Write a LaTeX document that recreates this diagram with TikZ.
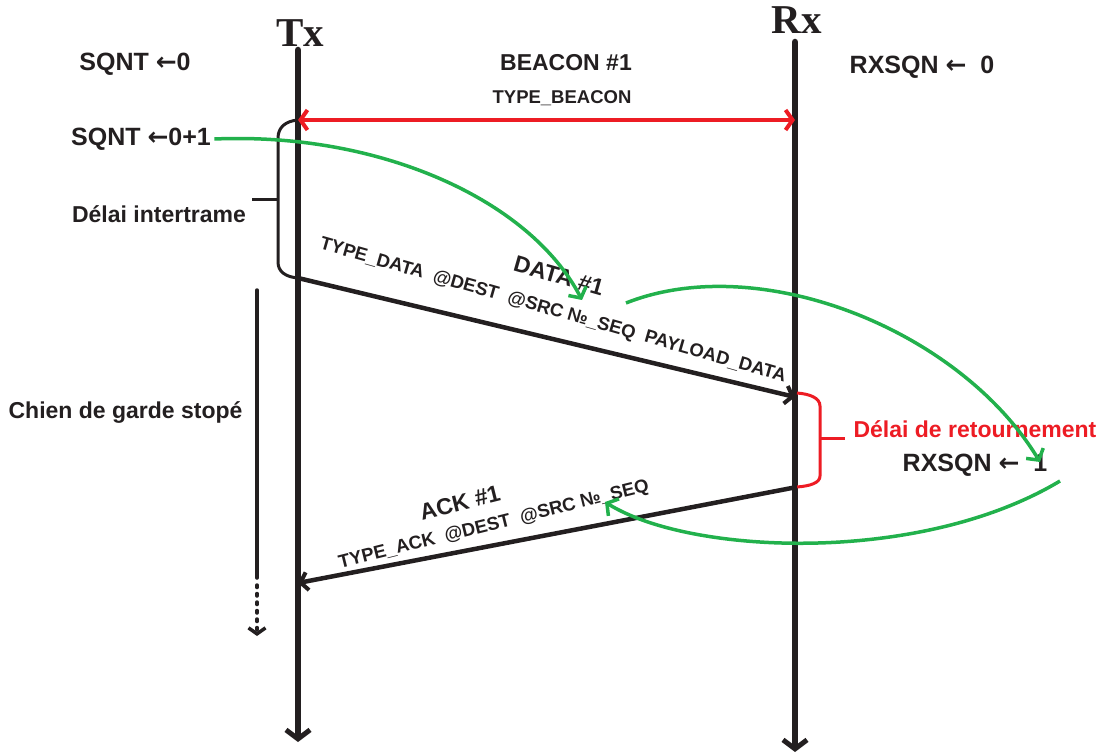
\documentclass[tikz,border=0pt]{standalone}
\usepackage{fontspec}
\setmainfont{Liberation Sans}
\newfontfamily\stationfont{Liberation Serif}
\newfontfamily\arrowfont{DejaVu Sans}
\usetikzlibrary{arrows.meta}

\definecolor{beaconred}{HTML}{ED1C24}
\definecolor{flowgreen}{HTML}{22B14C}
\definecolor{inkblack}{HTML}{231F20}

\newcommand{\getsarrow}{{\arrowfont ←}}

\begin{document}
\begin{tikzpicture}[x=1pt, y=-1pt, color=inkblack,
  font=\bfseries\fontsize{23}{27}\selectfont,
  lifeline/.style={line width=6.5pt, line cap=round, -{Straight Barb[length=9pt,width=24pt,line width=5pt]}},
  msg/.style={line width=4.5pt, -{Straight Barb[length=7pt,width=18pt,line width=4pt]}},
  beacon/.style={beaconred, line width=4pt, {Straight Barb[length=7pt,width=20pt]}-{Straight Barb[length=7pt,width=20pt]}},
  loopback/.style={flowgreen, line width=3.5pt, -{Straight Barb[length=8pt,width=20pt]}},
  bracket/.style={line width=3pt},
  watchdog/.style={line width=3.5pt, line cap=round},
  smalltxt/.style={font=\bfseries\fontsize{18.5}{21}\selectfont},
  bigtxt/.style={font=\bfseries\fontsize{25}{30}\selectfont},
  station/.style={font=\stationfont\bfseries\fontsize{41}{45}\selectfont},
]
\useasboundingbox (0,0) rectangle (1106,754);

% Lifelines
\node[station] (tx) at (300,33) {Tx};
\node[station] (rx) at (797,20) {Rx};
\coordinate (txtop) at (298,50);
\coordinate (txbot) at (298,742);
\coordinate (rxtop) at (795,42);
\coordinate (rxbot) at (795,752);
\draw[lifeline] (txtop) -- (txbot);
\draw[lifeline] (rxtop) -- (rxbot);

% Beacon
\coordinate (bcnTx) at (298,120);
\coordinate (bcnRx) at (795,120);
\draw[beacon] (bcnTx) -- (bcnRx);
\node (beaconlbl) at (566,63) {BEACON \#1};
\node[smalltxt] (beacontype) at (562,98) {TYPE\_BEACON};

% Sequence counters
\node[bigtxt] (sqnt0) at (135,64) {SQNT \getsarrow0};
\node[bigtxt] (rxsqn0) at (922,67) {RXSQN \getsarrow\ \ 0};
\node[bigtxt] (sqnt1) at (141,139) {SQNT \getsarrow0+1};

% Interframe delay
\coordinate (dataTx) at (298,278);
\coordinate (itMid) at (278,200);
\draw[bracket] (bcnTx) .. controls (286,121) and (278,127) .. (278,138) -- (278,262)
  .. controls (278,272) and (286,277) .. (dataTx);
\draw[bracket] (itMid) -- ++(-26,0);
\node (intertrame) at (159,214) {Délai intertrame};

% Data frame
\coordinate (dataRx) at (795,397);
\draw[msg] (dataTx) -- (dataRx);
\node[rotate=-16] (datalbl) at (559,276) {DATA \#1};
\node[smalltxt, rotate=-16] (datafields) at (553,311) {TYPE\_DATA\ \ @DEST\ \ @SRC №\_SEQ\ \ PAYLOAD\_DATA};

% Turnaround delay
\coordinate (retTop) at (797,393);
\coordinate (ackRx) at (797,487);
\coordinate (retMid) at (820,438);
\draw[bracket, beaconred] (retTop) .. controls (810,394) and (820,398) .. (820,406) -- (820,476)
  .. controls (820,483) and (810,486) .. (ackRx);
\draw[bracket, beaconred] (retMid) -- ++(25,0);
\node[beaconred, anchor=west] (retournement) at (850,429) {Délai de retournement};
\node[bigtxt] (rxsqn1) at (975,465) {RXSQN \getsarrow\ \ 1};

% Ack frame
\coordinate (ackTx) at (298,583);
\draw[msg] (ackRx) -- (ackTx);
\node[rotate=14] (acklbl) at (460,503) {ACK \#1};
\node[smalltxt, rotate=14] (ackfields) at (494,525) {TYPE\_ACK\ \ @DEST\ \ @SRC №\_SEQ};

% Watchdog
\coordinate (wdTop) at (257,290);
\coordinate (wdStop) at (257,578);
\coordinate (wdEnd) at (257,636);
\draw[watchdog] (wdTop) -- (wdStop);
\draw[watchdog, dash pattern=on 2.5pt off 6pt, -{Straight Barb[length=6pt,width=17pt,line width=3.5pt]}] (wdStop) ++(0,7) -- (wdEnd);
\node[anchor=east] (watchdoglbl) at (246,413) {Chien de garde stopé};

% Counter updates
\coordinate (dataHit) at (582,300);
\coordinate (dataOut) at (626,303);
\coordinate (rxHit) at (1040,462);
\coordinate (rxOut) at (1060,481);
\coordinate (ackHit) at (605,502);
\draw[loopback] (sqnt1.east) .. controls (380,132) and (530,200) .. (dataHit);
\draw[loopback] (dataOut) .. controls (760,250) and (960,330) .. (rxHit);
\draw[loopback] (rxOut) .. controls (920,565) and (690,555) .. (ackHit);

\end{tikzpicture}
\end{document}
